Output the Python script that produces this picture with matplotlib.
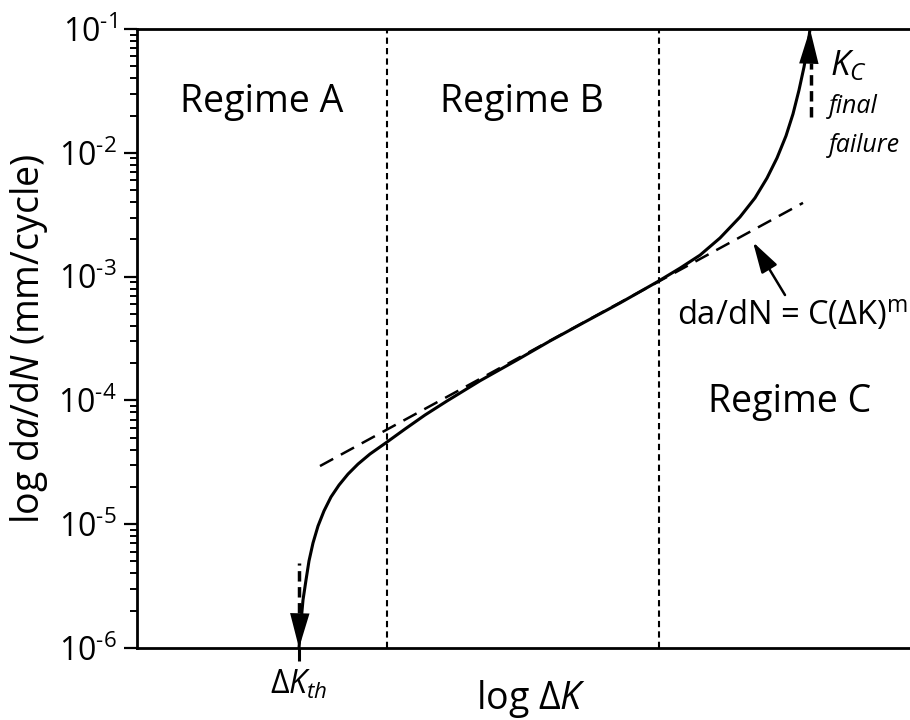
import matplotlib
matplotlib.use("Agg")
import matplotlib.pyplot as plt
from matplotlib.ticker import FuncFormatter
import numpy as np

plt.rcParams['font.family'] = ['Open Sans', 'DejaVu Sans']
plt.rcParams['mathtext.fontset'] = 'custom'
plt.rcParams['mathtext.rm'] = 'Open Sans'
plt.rcParams['mathtext.it'] = 'Open Sans:italic'
plt.rcParams['mathtext.bf'] = 'Open Sans:bold'

# crack growth curve, log dK in arbitrary axis units, da/dN in mm/cycle
log_dk = [1.62, 1.64, 1.66, 1.69, 1.72, 1.76, 1.81, 1.87, 1.94, 2.02, 2.11,
          2.21, 2.33, 2.50, 2.68, 2.88, 3.10, 3.43, 3.80, 4.13, 4.46, 4.83,
          5.20, 5.43, 5.63, 5.83, 6.03, 6.18, 6.30, 6.40, 6.49, 6.56, 6.62,
          6.67, 6.71, 6.73]
rate = [1.0e-6, 1.62e-6, 2.44e-6, 3.54e-6, 5.05e-6, 7.05e-6, 9.66e-6,
        1.28e-5, 1.66e-5, 2.07e-5, 2.54e-5, 3.06e-5, 3.69e-5, 4.61e-5,
        5.87e-5, 7.62e-5, 9.89e-5, 1.44e-4, 2.12e-4, 3.02e-4, 4.22e-4,
        6.12e-4, 9.04e-4, 1.17e-3, 1.49e-3, 2.05e-3, 3.03e-3, 4.32e-3,
        6.25e-3, 9.08e-3, 1.37e-2, 2.06e-2, 3.21e-2, 4.93e-2, 7.43e-2, 1.0e-1]

# Paris law line
paris_dk = [1.83, 6.66]
paris_rate = [2.95e-5, 3.94e-3]

regime_bounds = [2.50, 5.22]
regime_names = ['Regime A', 'Regime B', 'Regime C']

dk_th = 1.62
th_shaft = [1.9e-6, 4.9e-6]
dk_c = 6.74
kc_shaft = [1.95e-2, 5.3e-2]


def exp_label(v, pos):
    # \text keeps the plain hyphen instead of the mathtext minus sign
    e = int(round(np.log10(v)))
    return '$\\mathdefault{10^{\\text{%d}}}$' % e


fig = plt.figure(figsize=(9.1, 7.2), dpi=100)
ax = fig.add_axes([137 / 910, 72 / 720, 773 / 910, 619 / 720])

ax.set_yscale('log')
ax.set_xlim(0, 7.73)
ax.set_ylim(1e-6, 1e-1)

for xb in regime_bounds:
    ax.axvline(xb, color='k', lw=1.5, ls=(0, (3, 2)))

ax.plot(paris_dk, paris_rate, color='k', lw=1.8, ls=(0, (6, 3.5)))
ax.plot(log_dk, rate, color='k', lw=2.2, solid_capstyle='butt')

head = '-|>,head_length=25,head_width=7'
ax.annotate('', xy=(log_dk[0], rate[0]), xytext=(log_dk[1], rate[4]),
            arrowprops=dict(arrowstyle=head, mutation_scale=1, fc='k', ec='k',
                            lw=0, shrinkA=0, shrinkB=0))
ax.annotate('', xy=(log_dk[-1], rate[-1]), xytext=(log_dk[-2], rate[-4]),
            arrowprops=dict(arrowstyle=head, mutation_scale=1, fc='k', ec='k',
                            lw=0, shrinkA=0, shrinkB=0))

# dashed shafts next to the arrow heads
ax.plot([dk_th, dk_th], th_shaft, color='k', lw=2.5, ls=(0, (3, 1.6)))
ax.plot([dk_c, dk_c], kc_shaft, color='k', lw=2.5, ls=(0, (3, 1.6)))

# pointer to the Paris law line
ax.annotate('', xy=(6.16, 1.9e-3), xytext=(6.48, 7.1e-4),
            arrowprops=dict(arrowstyle='-|>,head_length=19,head_width=5.5',
                            mutation_scale=1, fc='k', ec='k', lw=1.8,
                            shrinkA=0, shrinkB=0))
ax.text(5.40, 4.07e-4, r'da/dN = C(ΔK$)^{\mathrm{m}}$', fontsize=23.5,
        ha='left', va='baseline')

ax.text(1.25, 2.14e-2, regime_names[0], fontsize=27, ha='center', va='baseline')
ax.text(3.85, 2.14e-2, regime_names[1], fontsize=27, ha='center', va='baseline')
ax.text(6.53, 8.05e-5, regime_names[2], fontsize=27, ha='center', va='baseline')

ax.text(6.93, 4.25e-2, r'$K_C$', fontsize=25, ha='left', va='baseline')
ax.text(6.92, 2.1e-2, 'final', fontsize=18, style='italic', ha='left', va='baseline')
ax.text(6.92, 1.01e-2, 'failure', fontsize=18, style='italic', ha='left', va='baseline')

ax.spines['right'].set_visible(False)
for s in ['left', 'bottom', 'top']:
    ax.spines[s].set_linewidth(2)

ax.set_xticks([dk_th])
ax.set_xticklabels([r'$\Delta K_{th}$'], fontsize=23)
ax.tick_params(axis='x', direction='out', length=9.5, width=2.2, pad=5)
ax.yaxis.set_major_formatter(FuncFormatter(exp_label))
ax.tick_params(axis='y', which='major', direction='out', length=9.5, width=1.6,
               labelsize=23, pad=5)
ax.tick_params(axis='y', which='minor', direction='out', length=5, width=1.4)

ax.set_xlabel(r'log $\Delta K$', fontsize=27)
ax.xaxis.set_label_coords(0.51, -0.048)
ax.set_ylabel(r'log d$a$/d$N$ (mm/cycle)', fontsize=27)
ax.yaxis.set_label_coords(-0.112, 0.5)

fig.savefig('out.png', dpi=100)
